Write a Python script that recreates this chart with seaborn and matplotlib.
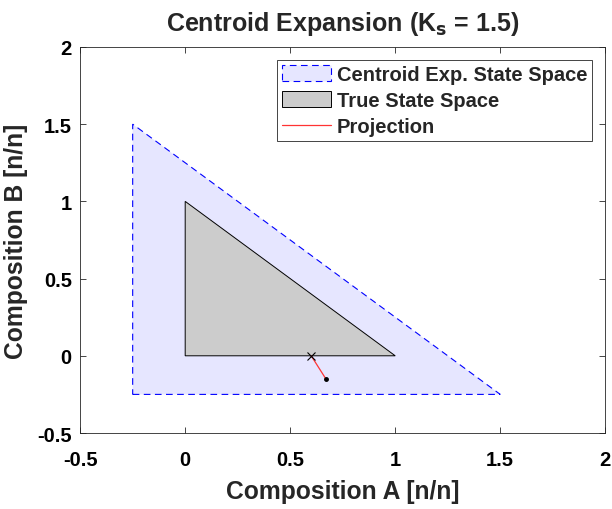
import numpy as np
import matplotlib
matplotlib.use("Agg")
import matplotlib.pyplot as plt
import seaborn as sns
from matplotlib.patches import Polygon

# data
outer_x = [-0.25, 1.5, -0.25]
outer_y = [-0.25, -0.25, 1.5]
inner_x = [0, 1, 0]
inner_y = [0, 0, 1]
proj_x = [0.6, 0.67]
proj_y = [0.0, -0.15]
ticks = [-0.5, 0, 0.5, 1, 1.5, 2]
tick_labels = ["-0.5", "0", "0.5", "1", "1.5", "2"]

sns.set_style("white")
plt.rcParams['font.family'] = ['Liberation Sans', 'DejaVu Sans']
plt.rcParams['font.weight'] = 'bold'

fig = plt.figure(figsize=(6.12, 5.10), dpi=100)
ax = fig.add_axes([0.131, 0.149, 0.858, 0.757])

outer = Polygon(np.column_stack([outer_x, outer_y]), closed=True,
                facecolor=(0.9, 0.9, 1.0), edgecolor='blue', linestyle=(0, (6, 4)),
                linewidth=0.8, label='Centroid Exp. State Space')
ax.add_patch(outer)
inner = Polygon(np.column_stack([inner_x, inner_y]), closed=True,
                facecolor=(0.8, 0.8, 0.8), edgecolor='black', linewidth=0.7,
                label='True State Space')
ax.add_patch(inner)

sns.lineplot(x=proj_x, y=proj_y, ax=ax, color='#ff3333', linewidth=0.9,
             label='Projection', sort=False, estimator=None)
ax.plot(proj_x[0], proj_y[0], marker='x', color='black', markersize=6,
        markeredgewidth=0.8, linestyle='none')
ax.plot(proj_x[1], proj_y[1], marker='o', color='black', markersize=2.5,
        linestyle='none')

ax.set_xlim(-0.5, 2)
ax.set_ylim(-0.5, 2)
ax.set_xticks(ticks)
ax.set_xticklabels(tick_labels)
ax.set_yticks(ticks)
ax.set_yticklabels(tick_labels)
ax.tick_params(direction='in', length=4, width=0.6, labelsize=14.5,
               top=True, right=True, bottom=True, left=True, colors='#262626')
ax.tick_params(axis='x', pad=12)
ax.tick_params(axis='y', pad=6)
for lab in ax.get_xticklabels() + ax.get_yticklabels():
    lab.set_fontweight('bold')
    lab.set_color('black')
for s in ax.spines.values():
    s.set_color('#262626')
    s.set_linewidth(0.6)

ax.set_xlabel('Composition A [n/n]', fontsize=17.75, fontweight='bold')
ax.set_ylabel('Composition B [n/n]', fontsize=17.75, fontweight='bold')
ax.xaxis.set_label_coords(0.5, -0.150)
ax.yaxis.set_label_coords(-0.122, 0.5)
ax.xaxis.label.set_va('center')
ax.yaxis.label.set_va('center')
ax.set_title('Centroid Expansion (K$_\\mathbf{s}$ = 1.5)', fontsize=18,
             fontweight='bold', pad=12)

leg = ax.legend(loc='upper right', fontsize=14.5, frameon=True, fancybox=False,
                edgecolor='#262626', framealpha=1, borderpad=0.25,
                labelspacing=0.35, handlelength=2.4, handleheight=0.85,
                handletextpad=0.3, borderaxespad=0.65)
leg.get_frame().set_linewidth(0.6)
for t in leg.get_texts():
    t.set_fontweight('bold')

fig.savefig('out.png', dpi=100)
